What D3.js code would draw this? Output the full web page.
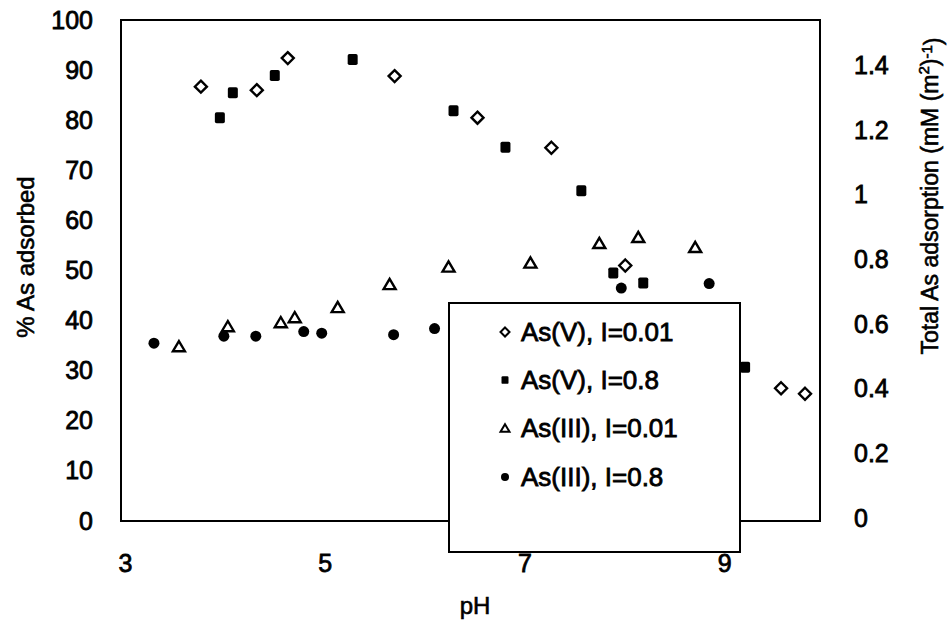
<!DOCTYPE html>
<html>
<head>
<meta charset="utf-8">
<script src="https://cdn.jsdelivr.net/npm/d3@7"></script>
<style>
  html, body { margin: 0; padding: 0; background: #fff; }
  svg { display: block; }
  text { font-family: "Liberation Sans", Arial, sans-serif; fill: #000; }
</style>
</head>
<body>
<div id="chart"></div>
<script>
// ---------- data ----------
const xTicks = [3, 5, 7, 9];
const yLeftTicks = [0, 10, 20, 30, 40, 50, 60, 70, 80, 90, 100];
const yRightTicks = [0, 0.2, 0.4, 0.6, 0.8, 1, 1.2, 1.4];

const seriesNames = ["As(V), I=0.01", "As(V), I=0.8", "As(III), I=0.01", "As(III), I=0.8"];

const asV_I001_pH  = [3.80, 4.36, 4.67, 5.74, 6.57, 7.31, 8.05, 9.61, 9.85];
const asV_I001_pct = [86.7, 86.0, 92.4, 88.8, 80.5, 74.5, 51.0, 26.5, 25.4];

const asV_I08_pH  = [3.99, 4.12, 4.54, 5.32, 6.33, 6.85, 7.61, 7.93, 8.23, 9.25];
const asV_I08_pct = [80.5, 85.5, 88.9, 92.1, 81.9, 74.6, 65.9, 49.5, 47.5, 30.7];

const asIII_I001_pH  = [3.58, 4.07, 4.60, 4.74, 5.17, 5.69, 6.28, 7.10, 7.79, 8.18, 8.75];
const asIII_I001_pct = [34.9, 38.9, 39.7, 40.7, 42.7, 47.3, 50.8, 51.6, 55.5, 56.7, 54.7];

const asIII_I08_pH  = [3.33, 4.03, 4.35, 4.83, 5.01, 5.73, 6.14, 8.01, 8.89];
const asIII_I08_pct = [35.5, 36.9, 36.9, 37.8, 37.5, 37.2, 38.4, 46.5, 47.4];

// ---------- layout ----------
const W = 948, H = 623;
const plot = { left: 121, right: 820, top: 20, bottom: 521 };
const FS = 25;

const x = d3.scaleLinear().domain([3, 10]).range([plot.left, plot.right]);
const y = d3.scaleLinear().domain([0, 100]).range([plot.bottom, plot.top]);
const y2 = d3.scaleLinear().domain([0, 1.55]).range([plot.bottom, plot.top]);

const svg = d3.select("#chart").append("svg")
  .attr("width", W).attr("height", H).attr("viewBox", `0 0 ${W} ${H}`);

svg.append("rect").attr("width", W).attr("height", H).attr("fill", "#fff");

// frame
svg.append("rect")
  .attr("x", plot.left).attr("y", plot.top)
  .attr("width", plot.right - plot.left).attr("height", plot.bottom - plot.top)
  .attr("fill", "none").attr("stroke", "#000").attr("stroke-width", 2);

// custom symbols
const diamondSym = { draw(ctx, size) { const r = Math.sqrt(size) / 2;
  ctx.moveTo(0, -r); ctx.lineTo(r, 0); ctx.lineTo(0, r); ctx.lineTo(-r, 0); ctx.closePath(); } };
const triSym = { draw(ctx, size) { const w = Math.sqrt(size) / 2; const h = w * 0.85;
  ctx.moveTo(0, -h); ctx.lineTo(w, h); ctx.lineTo(-w, h); ctx.closePath(); } };
const squareSym = { draw(ctx, size) { const w = Math.sqrt(size) / 2; const h = w * 1.1; const rr = w * 0.35;
  ctx.moveTo(-w + rr, -h); ctx.lineTo(w - rr, -h); ctx.quadraticCurveTo(w, -h, w, -h + rr);
  ctx.lineTo(w, h - rr); ctx.quadraticCurveTo(w, h, w - rr, h);
  ctx.lineTo(-w + rr, h); ctx.quadraticCurveTo(-w, h, -w, h - rr);
  ctx.lineTo(-w, -h + rr); ctx.quadraticCurveTo(-w, -h, -w + rr, -h); ctx.closePath(); } };
const circleSym = { draw(ctx, size) { const r = Math.sqrt(size) / 2;
  ctx.moveTo(r, 0); ctx.arc(0, 0, r, 0, 2 * Math.PI); } };

const styles = [
  { type: diamondSym, size: 12 * 12, lsize: 9 * 9, fill: "#fff", stroke: "#000", sw: 2.4 },
  { type: squareSym,  size: 10 * 10, lsize: 7 * 7, fill: "#000", stroke: "none", sw: 0 },
  { type: triSym,     size: 12 * 12, lsize: 9 * 9, fill: "#fff", stroke: "#000", sw: 2.4 },
  { type: circleSym,  size: 11 * 11, lsize: 8 * 8, fill: "#000", stroke: "none", sw: 0 }
];

const series = [
  { pH: asV_I001_pH, pct: asV_I001_pct },
  { pH: asV_I08_pH, pct: asV_I08_pct },
  { pH: asIII_I001_pH, pct: asIII_I001_pct },
  { pH: asIII_I08_pH, pct: asIII_I08_pct }
];

const order = [2, 0, 1, 3];
order.forEach(i => {
  const s = series[i], st = styles[i];
  const pts = s.pH.map((p, k) => ({ p, v: s.pct[k] }));
  svg.append("g").selectAll("path").data(pts).join("path")
    .attr("transform", d => `translate(${x(d.p)},${y(d.v)})`)
    .attr("d", d3.symbol().type(st.type).size(st.size))
    .attr("fill", st.fill).attr("stroke", st.stroke).attr("stroke-width", st.sw);
});

// legend
const leg = { x: 449, y: 303, w: 291, h: 249 };
const lg = svg.append("g");
lg.append("rect").attr("x", leg.x).attr("y", leg.y).attr("width", leg.w).attr("height", leg.h)
  .attr("fill", "#fff").attr("stroke", "#000").attr("stroke-width", 2);
const rowY = [332, 380, 428, 477];
seriesNames.forEach((name, i) => {
  const st = styles[i];
  lg.append("path")
    .attr("transform", `translate(505,${rowY[i]})`)
    .attr("d", d3.symbol().type(st.type).size(st.lsize))
    .attr("fill", st.fill).attr("stroke", st.stroke).attr("stroke-width", st.sw ? 2 : 0);
  lg.append("text").attr("x", 521).attr("y", rowY[i]).attr("dy", "0.36em")
    .attr("font-size", 26).attr("stroke", "#000").attr("stroke-width", 0.8)
    .text(name);
});

// axis labels
const axL = d3.axisLeft(y).tickValues(yLeftTicks).tickSize(0).tickPadding(28).tickFormat(d3.format("d"));
const gL = svg.append("g").attr("transform", `translate(${plot.left},0)`).call(axL);
const axR = d3.axisRight(y2).tickValues(yRightTicks).tickSize(0).tickPadding(34).tickFormat(d => d3.format("")(d));
const gR = svg.append("g").attr("transform", `translate(${plot.right},-3)`).call(axR);
const axB = d3.axisBottom(x).tickValues(xTicks).tickSize(0).tickPadding(33).tickFormat(d3.format("d"));
const gB = svg.append("g").attr("transform", `translate(4,${plot.bottom})`).call(axB);

[gL, gR, gB].forEach(g => {
  g.select(".domain").remove();
  g.selectAll("text").attr("font-size", FS)
    .attr("font-family", '"Liberation Sans", Arial, sans-serif')
    .attr("fill", "#000").attr("stroke", "#000").attr("stroke-width", 0.8);
});

// axis titles
svg.append("text").attr("transform", "translate(25,257) rotate(-90)")
  .attr("text-anchor", "middle").attr("dy", "0.36em")
  .attr("font-size", 24).attr("stroke", "#000").attr("stroke-width", 0.6)
  .text("% As adsorbed");

svg.append("text").attr("transform", "translate(475,614)")
  .attr("text-anchor", "middle")
  .attr("font-size", 24).attr("stroke", "#000").attr("stroke-width", 0.6)
  .text("pH");

const rt = svg.append("text").attr("transform", "translate(930,196) rotate(-90)")
  .attr("text-anchor", "middle").attr("dy", "0.36em")
  .attr("font-size", 23).attr("stroke", "#000").attr("stroke-width", 0.6);
rt.append("tspan").text("Total As adsorption (mM (m");
rt.append("tspan").attr("font-size", 15).attr("dy", "-0.6em").text("2");
rt.append("tspan").attr("dy", "0.38em").text(")");
rt.append("tspan").attr("font-size", 15).attr("dy", "-0.38em").text("-1");
rt.append("tspan").attr("dy", "0.38em").text(")");
</script>
</body>
</html>
